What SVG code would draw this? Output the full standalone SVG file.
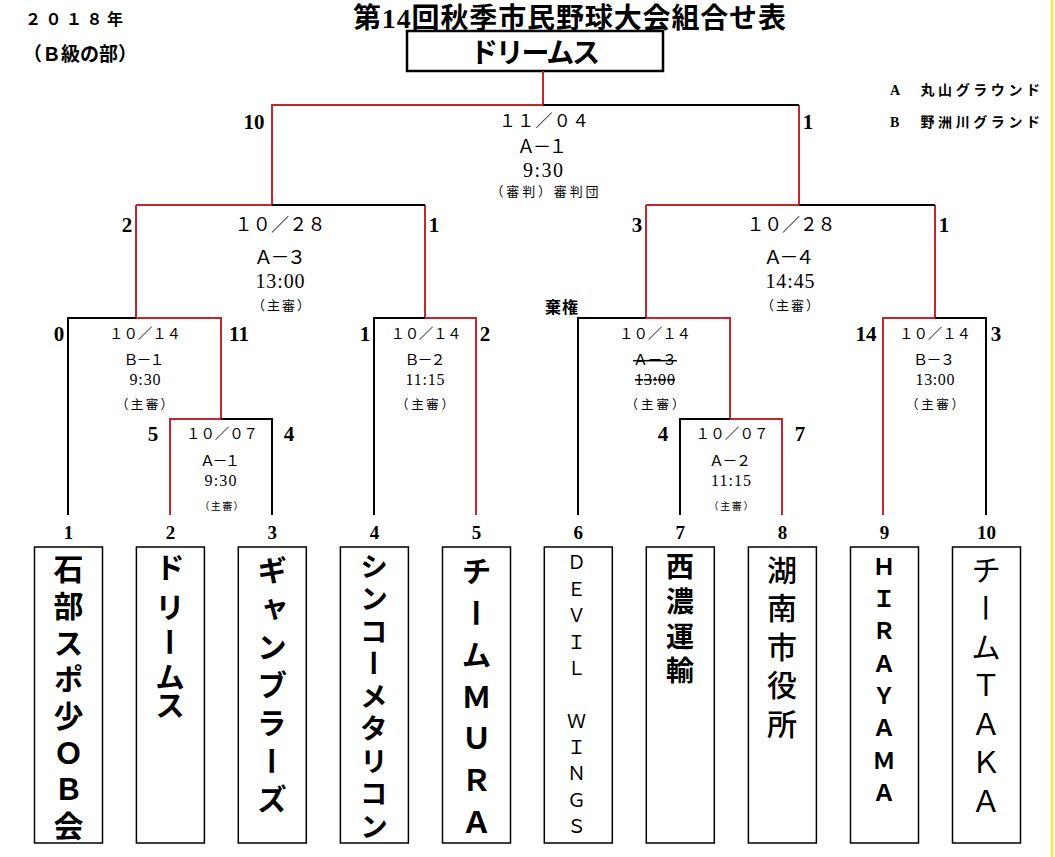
<svg xmlns="http://www.w3.org/2000/svg" width="1055" height="857" viewBox="0 0 1055 857">
<style>
.ser{font-family:"Liberation Serif","Noto Sans CJK JP",serif;dominant-baseline:central;text-anchor:middle;fill:#000}
.sans{font-family:"Noto Sans CJK JP","Liberation Sans",sans-serif;dominant-baseline:central;fill:#000}
.lg{font-family:"Liberation Serif","Noto Sans CJK JP",serif;font-weight:700;font-size:14px;dominant-baseline:central;text-anchor:start;fill:#000}
.b{font-weight:700}
.sc{font-family:"Liberation Serif","Noto Sans CJK JP",serif;font-weight:700;font-size:21px;dominant-baseline:central;text-anchor:middle}
.tn{font-family:"Liberation Serif",serif;font-weight:700;font-size:19px;dominant-baseline:central;text-anchor:middle}
.d1{font-size:18px}
.d2{font-size:14.5px}
.v{font-family:"Noto Sans CJK JP",sans-serif;writing-mode:vertical-rl;text-orientation:upright;fill:#000}
.box{fill:#fff;stroke:#000;stroke-width:1.5}
.red{stroke:#c1272d;stroke-width:2;fill:none}
.blk{stroke:#000;stroke-width:2;fill:none}
.st{text-decoration:line-through}
</style>
<rect x="0" y="0" width="1055" height="857" fill="#fff"/>
<line x1="1052" y1="0" x2="1052" y2="857" stroke="#f2f200" stroke-width="2"/>

<g id="header">
<text class="sans b" x="25" y="18" font-size="16" textLength="98">２０１８年</text>
<text class="sans b" x="23" y="52" font-size="19">（Ｂ級の部）</text>
<text class="ser b" x="569.5" y="18" font-size="28" textLength="433">第14回秋季市民野球大会組合せ表</text>
</g>

<g id="legend">
<text class="lg" x="890" y="90" textLength="150">A　丸山グラウンド</text>
<text class="lg" x="890" y="122" textLength="150">B　野洲川グランド</text>
</g>

<g id="champion">
<rect x="407" y="31" width="256" height="40" fill="#fff" stroke="#000" stroke-width="2.5"/>
<text class="sans b" x="535" y="51" font-size="28" text-anchor="middle" textLength="130">ドリームス</text>
</g>

<g id="connectors">
<g class="red">
<path d="M543 71V105H272V205"/>
<path d="M799 105V205"/>
<path d="M136 205H272"/>
<path d="M136 205V318H221V419H170V515"/>
<path d="M425 205V318H476V515"/>
<path d="M646 205H799"/>
<path d="M646 205V318H730V419H782V515"/>
<path d="M935 205V318H883V515"/>
</g>
<g class="blk">
<path d="M543 105H799"/>
<path d="M272 205H425"/>
<path d="M136 318H68V515"/>
<path d="M221 419H272V515"/>
<path d="M425 318H374V515"/>
<path d="M799 205H935"/>
<path d="M646 318H578V515"/>
<path d="M730 419H680V515"/>
<path d="M935 318H986V515"/>
</g>
</g>

<g id="match-final">
<text class="sc" x="254" y="122">10</text>
<text class="sc" x="808" y="122">1</text>
<text class="ser" x="544" y="121" font-size="17" textLength="90">１１／０４</text>
<text class="ser" x="542" y="147" font-size="18" textLength="50">Ａ－１</text>
<text class="ser" x="543" y="170" font-size="20" textLength="40">9:30</text>
<text class="ser" x="544.5" y="191" font-size="13" textLength="108">（審判）審判団</text>
</g>

<g id="match-semi-left">
<text class="sc" x="127" y="225">2</text>
<text class="sc" x="434" y="225">1</text>
<text class="ser d1" x="280" y="225" textLength="91">１０／２８</text>
<text class="ser" x="280" y="257" font-size="19" textLength="52">Ａ－３</text>
<text class="ser" x="280" y="281" font-size="20" textLength="49">13:00</text>
<text class="ser" x="281" y="305" font-size="13" textLength="58">（主審）</text>
</g>

<g id="match-semi-right">
<text class="sc" x="637" y="225">3</text>
<text class="sc" x="944" y="225">1</text>
<text class="ser d1" x="791" y="225" textLength="89">１０／２８</text>
<text class="ser" x="789" y="257" font-size="19" textLength="51">Ａ－４</text>
<text class="ser" x="790" y="281" font-size="20" textLength="49">14:45</text>
<text class="ser" x="790" y="305" font-size="13" textLength="58">（主審）</text>
<text class="sans b" x="545" y="306" font-size="16" textLength="33">棄権</text>
</g>

<g id="match-b1">
<text class="sc" x="59" y="334">0</text>
<text class="sc" x="239" y="334">11</text>
<text class="ser d2" x="145" y="334" textLength="72">１０／１４</text>
<text class="ser" x="144" y="360" font-size="15" textLength="41">Ｂ－１</text>
<text class="ser" x="145" y="379" font-size="16" textLength="31">9:30</text>
<text class="ser" x="144.5" y="405" font-size="12.5" textLength="57">（主審）</text>
</g>

<g id="match-a1-sub">
<text class="sc" x="153" y="434">5</text>
<text class="sc" x="289" y="434">4</text>
<text class="ser d2" x="222" y="434" textLength="72">１０／０７</text>
<text class="ser" x="220" y="461" font-size="15" textLength="40">Ａ－１</text>
<text class="ser" x="220.5" y="480" font-size="16" textLength="32">9:30</text>
<text class="ser" x="221.5" y="506" font-size="10" textLength="44">（主審）</text>
</g>

<g id="match-b2">
<text class="sc" x="365" y="334">1</text>
<text class="sc" x="485" y="334">2</text>
<text class="ser d2" x="426" y="334" textLength="71">１０／１４</text>
<text class="ser" x="425" y="360" font-size="15" textLength="41">Ｂ－２</text>
<text class="ser" x="425" y="379" font-size="16" textLength="39">11:15</text>
<text class="ser" x="425" y="405" font-size="12.5" textLength="58">（主審）</text>
</g>

<g id="match-a3-cancelled">
<text class="ser d2" x="655" y="334" textLength="72">１０／１４</text>
<text class="ser st" x="655" y="360" font-size="15" textLength="44">Ａ－３</text>
<text class="ser st" x="655" y="379" font-size="16" textLength="40">13:00</text>
<text class="ser" x="655" y="405" font-size="12.5" textLength="59">（主審）</text>
</g>

<g id="match-a2-sub">
<text class="sc" x="663" y="434">4</text>
<text class="sc" x="800" y="434">7</text>
<text class="ser d2" x="732" y="434" textLength="73">１０／０７</text>
<text class="ser" x="730" y="461" font-size="15" textLength="42">Ａ－２</text>
<text class="ser" x="731" y="480" font-size="16" textLength="40">11:15</text>
<text class="ser" x="731" y="506" font-size="10" textLength="45">（主審）</text>
</g>

<g id="match-b3">
<text class="sc" x="866" y="334">14</text>
<text class="sc" x="996" y="334">3</text>
<text class="ser d2" x="935" y="334" textLength="72">１０／１４</text>
<text class="ser" x="934" y="360" font-size="15" textLength="42">Ｂ－３</text>
<text class="ser" x="935" y="379" font-size="16" textLength="39">13:00</text>
<text class="ser" x="935" y="405" font-size="12.5" textLength="58">（主審）</text>
</g>

<g id="team-1">
<text class="tn" x="68.5" y="532">1</text>
<rect class="box" x="34.5" y="547" width="68" height="296"/>
<text class="v b" x="68.5" y="554 590.7 627.4 664.1 700.8 737.5 774.2 811" font-size="30">石部スポ少ＯＢ会</text>
</g>
<g id="team-2">
<text class="tn" x="170.4" y="532">2</text>
<rect class="box" x="136.4" y="547" width="68" height="296"/>
<text class="v b" x="170" y="552 592 627 662 690" font-size="30">ドリームス</text>
</g>
<g id="team-3">
<text class="tn" x="272.3" y="532">3</text>
<rect class="box" x="238.3" y="547" width="68" height="296"/>
<text class="v b" x="272" y="555 593.2 631.3 669.5 707.7 745.8 784" font-size="30">ギャンブラーズ</text>
</g>
<g id="team-4">
<text class="tn" x="374.4" y="532">4</text>
<rect class="box" x="340.4" y="547" width="68" height="296"/>
<text class="v b" x="374" y="552 584.5 617 649.5 682 714.5 747 779.5 812" font-size="28">シンコーメタリコン</text>
</g>
<g id="team-5">
<text class="tn" x="476.5" y="532">5</text>
<rect class="box" x="442.5" y="547" width="68" height="296"/>
<text class="v b" x="476.5" y="556 597.8 639.7 681.5 723.3 765 807" font-size="30">チームＭＵＲＡ</text>
</g>
<g id="team-6">
<text class="tn" x="578.3" y="532">6</text>
<rect class="box" x="544.3" y="547" width="68" height="296"/>
<text class="v" x="576.5" y="553 579.4 605.7 632.1 658.4 684.8 711.1 737.5 763.8 790.2 816.5" font-size="19">ＤＥＶＩＬ　ＷＩＮＧＳ</text>
</g>
<g id="team-7">
<text class="tn" x="680.3" y="532">7</text>
<rect class="box" x="646.3" y="547" width="68" height="296"/>
<text class="v b" x="680" y="552.6 587.3 622 656.7" font-size="28">西濃運輸</text>
</g>
<g id="team-8">
<text class="tn" x="782.4" y="532">8</text>
<rect class="box" x="748.4" y="547" width="68" height="296"/>
<text class="v" x="782" y="554.3 592.9 631.5 670.1 708.8" font-size="30" font-weight="500">湖南市役所</text>
</g>
<g id="team-9">
<text class="tn" x="884.5" y="532">9</text>
<rect class="box" x="850.5" y="547" width="68" height="296"/>
<text class="v b" x="884" y="554.5 586.8 619.2 651.5 683.9 716.2 748.5 780.9" font-size="23">ＨＩＲＡＹＡＭＡ</text>
</g>
<g id="team-10">
<text class="tn" x="986.5" y="532">10</text>
<rect class="box" x="952.5" y="547" width="68" height="296"/>
<text class="v" x="986" y="554.3 592.9 631.5 670.1 708.7 747.3 786" font-size="30">チームＴＡＫＡ</text>
</g>
</svg>
